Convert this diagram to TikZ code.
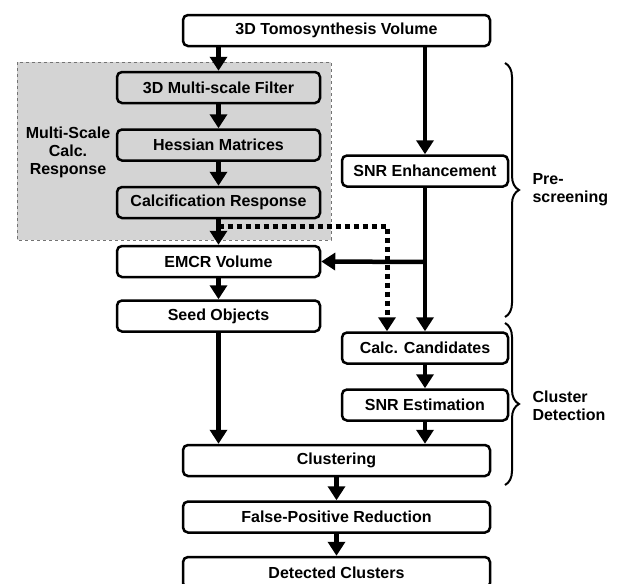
\documentclass[tikz,border=0pt]{standalone}
\usepackage{fontspec}
\setmainfont{Liberation Sans}
\usetikzlibrary{arrows.meta,decorations.pathreplacing}
\begin{document}
\begin{tikzpicture}[x=1pt, y=-1pt,
    box/.style={draw, line width=2.5pt, rounded corners=5pt, minimum height=31pt,
        inner sep=0pt, font=\fontsize{16}{18}\selectfont\bfseries},
    lbox/.style={box, minimum width=203pt},
    rbox/.style={box, minimum width=166pt},
    wbox/.style={box, minimum width=307pt},
    flow/.style={line width=4.5pt, -{Triangle[width=17pt,length=14pt]}},
    note/.style={font=\fontsize{16}{18}\selectfont\bfseries, align=left}]
    \clip (0,0) rectangle (619,584);

    % Draw the grey group
    \filldraw[fill=black!17, draw=black!55, dashed, line width=0.8pt] (17,62) rectangle (331,240);
    \node[note, align=center] (msr) at (68,152) {Multi-Scale\\Calc.\\Response};

    % Draw nodes
    \node[wbox, fill=white] (tomo) at (336.5,30.5) {3D Tomosynthesis Volume};
    \node[lbox] (filter) at (218.5,87.5) {3D Multi-scale Filter};
    \node[lbox] (hessian) at (218.5,145) {Hessian Matrices};
    \node[lbox] (calcresp) at (218.5,202.5) {Calcification Response};
    \node[lbox, fill=white] (emcr) at (218.5,261.5) {EMCR Volume};
    \node[lbox] (seed) at (218.5,316) {Seed Objects};
    \node[rbox] (snrenh) at (425,171) {SNR Enhancement};
    \node[rbox] (cand) at (425,348) {Calc. Candidates};
    \node[rbox] (snrest) at (425,405) {SNR Estimation};
    \node[wbox] (clust) at (336.5,460.5) {Clustering};
    \node[wbox] (fpr) at (336.5,517) {False-Positive Reduction};
    \node[wbox] (det) at (336.5,572.5) {Detected Clusters};
    \coordinate (branch) at (425,262);
    \coordinate (dotstart) at (218.5,226);
    \coordinate (dotturn) at (387,226);

    % Draw edges
    \draw[flow] (filter.north |- tomo.south) -- (filter.north);
    \draw[flow] (filter) -- (hessian);
    \draw[flow] (hessian) -- (calcresp);
    \draw[flow] (calcresp) -- (emcr);
    \draw[flow] (emcr) -- (seed);
    \draw[flow] (snrenh.north |- tomo.south) -- (snrenh.north);
    \draw[flow] (snrenh) -- (cand);
    \draw[flow] (branch) -- (emcr.east);
    \draw[flow, line width=5pt, dash pattern=on 5pt off 4pt] (dotstart) -- (dotturn) -- (dotturn |- cand.north);
    \draw[flow] (cand) -- (snrest);
    \draw[flow] (seed.south) -- (seed.south |- clust.north);
    \draw[flow] (snrest) -- (snrest.south |- clust.north);
    \draw[flow] (clust) -- (fpr);
    \draw[flow] (fpr) -- (det);

    % Draw braces
    \draw[line width=2pt, decorate, decoration={brace, amplitude=14pt}] (505,63) -- (505,317);
    \draw[line width=2pt, decorate, decoration={brace, amplitude=14pt}] (505,323) -- (505,485);
    \node[note, anchor=west] (pre) at (529,190) {Pre-\\screening};
    \node[note, anchor=west] (cd) at (529,406) {Cluster\\Detection};
\end{tikzpicture}
\end{document}
